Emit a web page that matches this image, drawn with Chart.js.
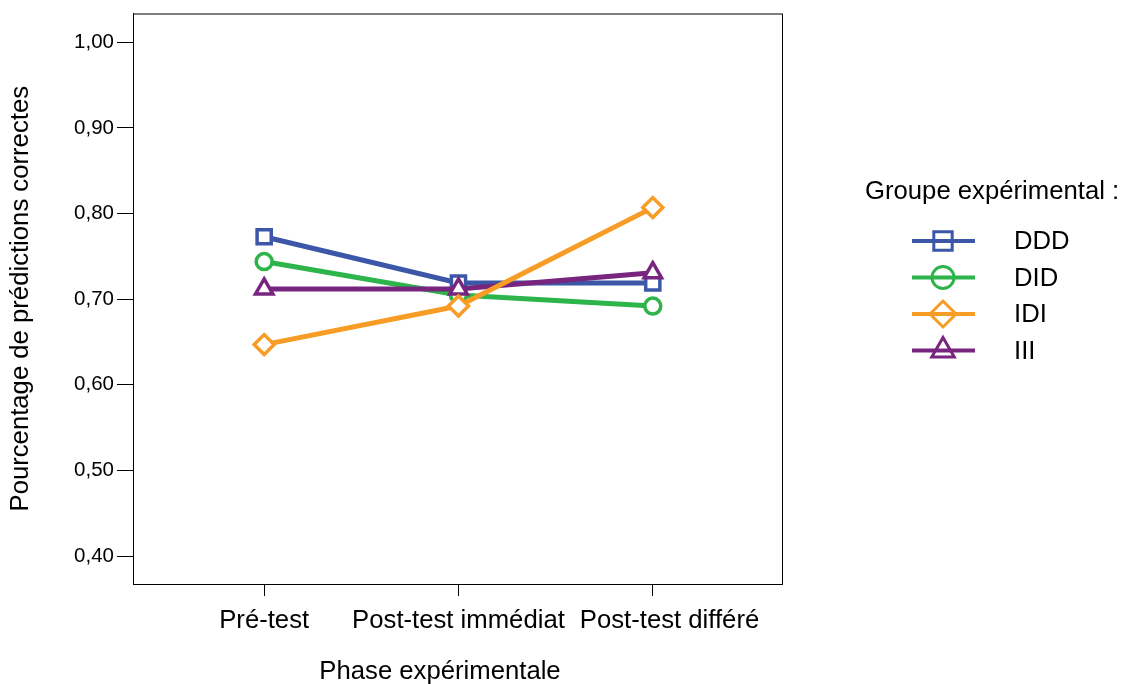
<!DOCTYPE html>
<html>
<head>
<meta charset="utf-8">
<script src="https://cdn.jsdelivr.net/npm/chart.js@4.4.1/dist/chart.umd.min.js"></script>
<style>
  html, body { margin: 0; padding: 0; background: #fff; }
  #wrap { width: 1128px; height: 684px; position: relative; }
</style>
</head>
<body>
<div id="wrap"><canvas id="myChart"></canvas></div>
<script>
const phases = ['Pré-test', 'Post-test immédiat', 'Post-test différé'];
const groups = ['DDD', 'DID', 'IDI', 'III'];
const dddValues = [0.773, 0.719, 0.719];
const didValues = [0.744, 0.705, 0.692];
const idiValues = [0.647, 0.692, 0.807];
const iiiValues = [0.712, 0.712, 0.731];
const yTicks = [0.40, 0.50, 0.60, 0.70, 0.80, 0.90, 1.00];

const colors = ['#3d57a8', '#2db44a', '#f79c25', '#77257e'];
const markers = ['rect', 'circle', 'rectRot', 'triangle'];
const drawOrder = [4, 3, 1, 2];
const allValues = [dddValues, didValues, idiValues, iiiValues];

const FONT = 'Arial, "Liberation Sans", sans-serif';
const BIG = 25.7;

const ctx = document.getElementById('myChart');

const toPoints = vals => vals.map((v, i) => ({ x: i, y: v }));

const datasets = groups.map((g, i) => ({
    label: g,
    data: toPoints(allValues[i]),
    order: drawOrder[i],
    borderColor: colors[i],
    backgroundColor: '#ffffff',
    borderWidth: 5,
    pointStyle: markers[i],
    pointRadius: markers[i] == 'circle' ? 8 : 10,
    pointBorderWidth: 3.5,
    pointBackgroundColor: '#ffffff',
    pointBorderColor: colors[i],
    tension: 0
}));

// x labels, x title, legend and frame, drawn like the SPSS original
const extras = {
    id: 'extras',
    afterDraw(chart) {
        const c = chart.ctx;
        const a = chart.chartArea;
        const xs = chart.scales.x;
        c.save();
        c.fillStyle = '#000';
        c.font = BIG + 'px ' + FONT;
        c.textBaseline = 'alphabetic';
        c.textAlign = 'left';

        // category labels, pushed right when they would touch the previous one
        let prevRight = -Infinity;
        phases.forEach((p, i) => {
            const w = c.measureText(p).width;
            let left = xs.getPixelForValue(i) - w / 2;
            if (left < prevRight + 15) left = prevRight + 15;
            c.fillText(p, left, 628);
            prevRight = left + w;
        });

        c.textAlign = 'center';
        c.fillText('Phase expérimentale', 440, 679);

        c.textAlign = 'left';
        c.textBaseline = 'middle';
        c.fillText('Groupe expérimental :', 865, 192);
        groups.forEach((g, i) => {
            const y = 241 + i * 36.5;
            c.fillStyle = '#fff';
            c.strokeStyle = colors[i];
            c.lineWidth = 3;
            Chart.helpers.drawPoint(c, {
                pointStyle: markers[i],
                radius: markers[i] == 'circle' ? 11 : 13,
                borderWidth: 3
            }, 943, y);
            c.lineWidth = 4;
            c.beginPath();
            c.moveTo(912, y);
            c.lineTo(975, y);
            c.stroke();
            c.fillStyle = '#000';
            c.fillText(g, 1014, y + 1);
        });

        c.strokeStyle = '#000';
        c.lineWidth = 1;
        c.strokeRect(a.left + 0.5, a.top + 0.5, a.right - a.left, a.bottom - a.top);
        c.restore();
    }
};

new Chart(ctx, {
    type: 'line',
    data: { datasets: datasets },
    options: {
        responsive: true,
        maintainAspectRatio: false,
        animation: false,
        layout: { padding: { top: 11, right: 346, left: 0, bottom: 0 } },
        plugins: {
            legend: { display: false },
            tooltip: { enabled: false }
        },
        scales: {
            x: {
                type: 'linear',
                min: -0.675,
                max: 2.665,
                afterBuildTicks: s => { s.ticks = phases.map((p, i) => ({ value: i })); },
                afterFit: s => { s.height = 100; s.paddingLeft = 0; s.paddingRight = 0; },
                ticks: { display: false },
                grid: { drawOnChartArea: false, color: '#000', tickLength: 12, lineWidth: 1 },
                border: { display: true, color: '#000' }
            },
            y: {
                min: 0.3674,
                max: 1.0337,
                afterBuildTicks: s => { s.ticks = yTicks.map(v => ({ value: v })); },
                afterFit: s => { s.width = 133; s.paddingTop = 0; s.paddingBottom = 0; },
                ticks: {
                    callback: v => v.toFixed(2).replace('.', ','),
                    color: '#000',
                    font: { family: FONT, size: 20.5 },
                    padding: 3
                },
                grid: { drawOnChartArea: false, color: '#000', tickLength: 16, lineWidth: 1 },
                border: { display: true, color: '#000' },
                title: {
                    display: true,
                    text: 'Pourcentage de prédictions correctes',
                    color: '#000',
                    font: { family: FONT, size: BIG, lineHeight: 1 },
                    padding: { top: 8, bottom: 0 }
                }
            }
        }
    },
    plugins: [extras]
});
</script>
</body>
</html>
